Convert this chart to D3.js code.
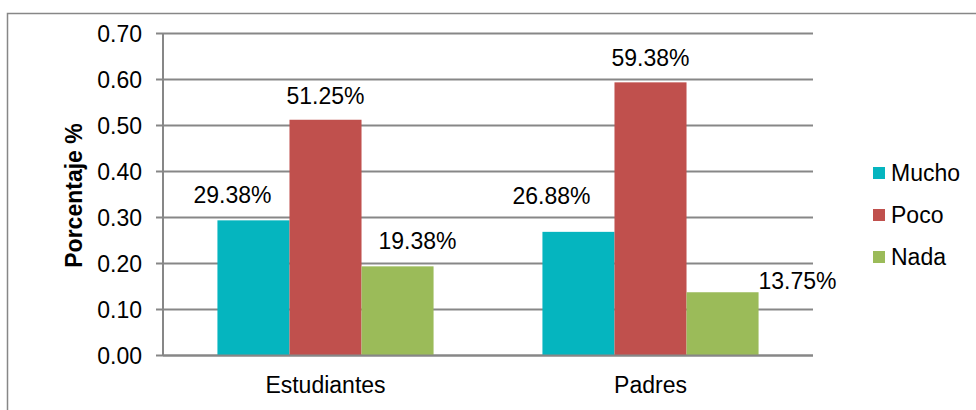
<!DOCTYPE html>
<html>
<head>
<meta charset="utf-8">
<script src="https://cdn.jsdelivr.net/npm/d3@7/dist/d3.min.js"></script>
<style>
  html, body { margin: 0; padding: 0; background: #fff; }
  svg { display: block; font-family: "Liberation Sans", Arial, sans-serif; }
</style>
</head>
<body>
<svg id="graf" width="976" height="410"></svg>
<script>
// grafico de barras agrupadas: estudiantes vs padres, mucho / poco / nada

var categorias = ["Estudiantes", "Padres"];
var series = ["Mucho", "Poco", "Nada"];
var mucho = [0.2938, 0.2688];
var poco = [0.5125, 0.5938];
var nada = [0.1938, 0.1375];
var etiquetasMucho = ["29.38%", "26.88%"];
var etiquetasPoco = ["51.25%", "59.38%"];
var etiquetasNada = ["19.38%", "13.75%"];
var ticksY = [0, 0.1, 0.2, 0.3, 0.4, 0.5, 0.6, 0.7];

var colores = { Mucho: "#05b5bf", Poco: "#c0504d", Nada: "#9bbb59" };
// las etiquetas en el original estan movidas a mano, esto es solo el ajuste
var ajusteEtiq = {
  Mucho: [[-21, -17], [-27, -28]],
  Poco: [[0, -16], [0, -16]],
  Nada: [[20, -17], [75, -3]]
};

var valores = { Mucho: mucho, Poco: poco, Nada: nada };
var textos = { Mucho: etiquetasMucho, Poco: etiquetasPoco, Nada: etiquetasNada };

var GRIS = "#878787";
var FS = 23;

var svg = d3.select("#graf");
var m = { izq: 163, der: 813, arr: 33.5, aba: 355.5 };

// borde exterior (sigue fuera de la imagen por derecha y abajo)
svg.append("rect")
  .attr("x", 7.5).attr("y", 13.5)
  .attr("width", 1000).attr("height", 1000)
  .attr("fill", "none").attr("stroke", GRIS).attr("stroke-width", 1.5);

var y = d3.scaleLinear().domain([0, 0.7]).range([m.aba, m.arr]);
var x0 = d3.scaleBand().domain(categorias).range([m.izq, m.der])
  .paddingInner(0.335).paddingOuter(0.1675);
var x1 = d3.scaleBand().domain(series).range([0, x0.bandwidth()]);

// lineas de cuadricula + marcas
var gY = svg.append("g");
gY.selectAll("line.grid").data(ticksY).enter().append("line")
  .attr("x1", m.izq - 7).attr("x2", m.der)
  .attr("y1", function (d) { return y(d); })
  .attr("y2", function (d) { return y(d); })
  .attr("stroke", GRIS).attr("stroke-width", 2);
gY.selectAll("text").data(ticksY).enter().append("text")
  .attr("x", 142).attr("y", function (d) { return y(d) + 8.5; })
  .attr("text-anchor", "end").attr("font-size", FS).attr("fill", "#000")
  .text(function (d) { return d3.format(".2f")(d); });

// barras
categorias.forEach(function (cat, i) {
  var g = svg.append("g").attr("transform", "translate(" + x0(cat) + ",0)");
  series.forEach(function (s) {
    g.append("rect")
      .attr("x", x1(s)).attr("width", x1.bandwidth())
      .attr("y", y(valores[s][i]))
      .attr("height", y(0) - y(valores[s][i]))
      .attr("fill", colores[s]);
  });
});

// eje y vertical y base
svg.append("line").attr("x1", m.izq).attr("x2", m.izq)
  .attr("y1", m.arr).attr("y2", m.aba)
  .attr("stroke", GRIS).attr("stroke-width", 2);
svg.append("line").attr("x1", m.izq).attr("x2", m.der)
  .attr("y1", m.aba).attr("y2", m.aba)
  .attr("stroke", GRIS).attr("stroke-width", 2);

// etiquetas de datos
categorias.forEach(function (cat, i) {
  series.forEach(function (s) {
    var cx = x0(cat) + x1(s) + x1.bandwidth() / 2;
    var aj = ajusteEtiq[s][i];
    svg.append("text")
      .attr("x", cx + aj[0]).attr("y", y(valores[s][i]) + aj[1])
      .attr("text-anchor", "middle").attr("font-size", FS).attr("fill", "#000")
      .text(textos[s][i]);
  });
});

// categorias eje x
svg.selectAll("text.cat").data(categorias).enter().append("text")
  .attr("class", "cat")
  .attr("x", function (d) { return x0(d) + x0.bandwidth() / 2; })
  .attr("y", 393)
  .attr("text-anchor", "middle").attr("font-size", FS).attr("fill", "#000")
  .text(function (d) { return d; });

// titulo eje y
svg.append("text")
  .attr("transform", "translate(82," + ((m.arr + m.aba) / 2 + 1) + ") rotate(-90)")
  .attr("text-anchor", "middle").attr("font-size", FS).attr("font-weight", "bold")
  .attr("fill", "#000")
  .text("Porcentaje %");

// leyenda
var ley = svg.append("g");
series.forEach(function (s, i) {
  var base = 181 + i * 42;
  ley.append("rect").attr("x", 873).attr("y", base - 14)
    .attr("width", 12).attr("height", 12).attr("fill", colores[s]);
  ley.append("text").attr("x", 891).attr("y", base)
    .attr("font-size", FS).attr("fill", "#000").text(s);
});
</script>
</body>
</html>
